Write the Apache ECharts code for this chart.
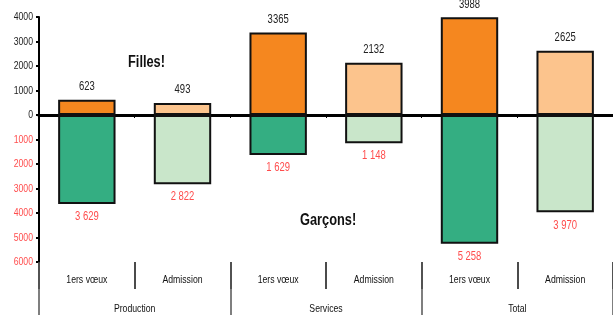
<!DOCTYPE html>
<html><head><meta charset="utf-8">
<script src="https://cdn.jsdelivr.net/npm/echarts@6/dist/echarts.min.js"></script>
<style>html,body{margin:0;padding:0;background:#fff}#c{width:613px;height:315px}</style>
</head><body><div id="c"></div>
<script>
var subCategories = ['1ers vœux','Admission','1ers vœux','Admission','1ers vœux','Admission'];
var groups = ['Production','Services','Total'];
var filles = [623, 493, 3365, 2132, 3988, 2625];
var garcons = [3629, 2822, 1629, 1148, 5258, 3970];
var yTicks = [-6000,-5000,-4000,-3000,-2000,-1000,0,1000,2000,3000,4000];

var FONT = '"Liberation Sans", Arial, sans-serif';
var SX = 0.79;
var RED = '#ff4d4d';
var chart = echarts.init(document.getElementById('c'));
function sep(v){ return String(v).replace(/\B(?=(\d{3})+(?!\d))/g,' '); }
chart.setOption({
  animation:false,
  grid:{left:39, top:17, width:582, height:245, containLabel:false},
  xAxis:[
    {type:'category', data:subCategories, position:'bottom',
     axisLine:{onZero:true, lineStyle:{color:'#000', width:3}},
     axisTick:{show:true, length:3, lineStyle:{color:'#000'}},
     axisLabel:{show:false}, splitLine:{show:false}},
    {type:'category', data:subCategories, position:'bottom',
     axisLine:{onZero:false, show:false},
     axisTick:{show:true, length:27, interval:0, lineStyle:{color:'#111', width:1.5}},
     axisLabel:{show:false}, splitLine:{show:false}},
    {type:'category', data:groups, position:'bottom',
     axisLine:{onZero:false, show:false},
     axisTick:{show:true, length:53, interval:0, lineStyle:{color:'#555', width:1.5}},
     axisLabel:{show:false}, splitLine:{show:false}}
  ],
  yAxis:{type:'value', min:yTicks[0], max:yTicks[yTicks.length-1], interval:1000,
    axisLine:{show:true, onZero:false, lineStyle:{color:'#000', width:2}},
    axisTick:{show:true, length:3, lineStyle:{color:'#000', width:2}},
    splitLine:{show:false}, axisLabel:{show:false}
  },
  series:[
    {name:'Filles', type:'bar', stack:'a', barWidth:'60%', xAxisIndex:0,
     data:filles,
     itemStyle:{borderColor:'#111', borderWidth:2,
       color:function(p){return p.dataIndex%2===0?'#f5871f':'#fcc48d';}}},
    {name:'Garçons', type:'bar', stack:'a', barWidth:'60%', xAxisIndex:0,
     data:garcons.map(function(v){return -v;}),
     itemStyle:{borderColor:'#111', borderWidth:2,
       color:function(p){return p.dataIndex%2===0?'#34ae82':'#c9e6ca';}}}
  ]
});

var gr = [];
function T(x, y, text, style, sx){
  gr.push({type:'text', x:x, y:y, scaleX:(sx||SX), silent:true, z:100,
    style:Object.assign({x:0, y:0, text:text, font:'11px '+FONT, fill:'#222',
      align:'center', verticalAlign:'middle'}, style||{})});
}
// y-axis labels
yTicks.forEach(function(v){
  var py = chart.convertToPixel({yAxisIndex:0}, v);
  var px = chart.convertToPixel({xAxisIndex:0}, 0) - 97*0.5; // axis position
  T(33, py, String(Math.abs(v)), {align:'right', fill: v<0?RED:'#222'});
});
var yBottom = chart.convertToPixel({yAxisIndex:0}, yTicks[0]);
// category labels
subCategories.forEach(function(c, i){
  var px = chart.convertToPixel({xAxisIndex:1}, i);
  T(px, yBottom + 18, c, {fill:'#111'});
});
groups.forEach(function(g, j){
  var px = chart.convertToPixel({xAxisIndex:2}, j);
  T(px, yBottom + 47, g, {fill:'#111'});
});
// value labels
filles.forEach(function(v, i){
  var px = chart.convertToPixel({xAxisIndex:0}, i);
  var py = chart.convertToPixel({yAxisIndex:0}, v);
  T(px, py - 7, String(v), {verticalAlign:'bottom', font:'12px '+FONT, fill:'#222'});
});
garcons.forEach(function(v, i){
  var px = chart.convertToPixel({xAxisIndex:0}, i);
  var py = chart.convertToPixel({yAxisIndex:0}, -v);
  T(px, py + 7, sep(v), {verticalAlign:'top', font:'12px '+FONT, fill:RED});
});
// annotations
T(128, 63, 'Filles!', {align:'left', font:'bold 16px '+FONT, fill:'#111'}, 0.8);
T(300, 221, 'Garçons!', {align:'left', font:'bold 16px '+FONT, fill:'#111'}, 0.8);
chart.setOption({graphic:gr});
</script></body></html>
